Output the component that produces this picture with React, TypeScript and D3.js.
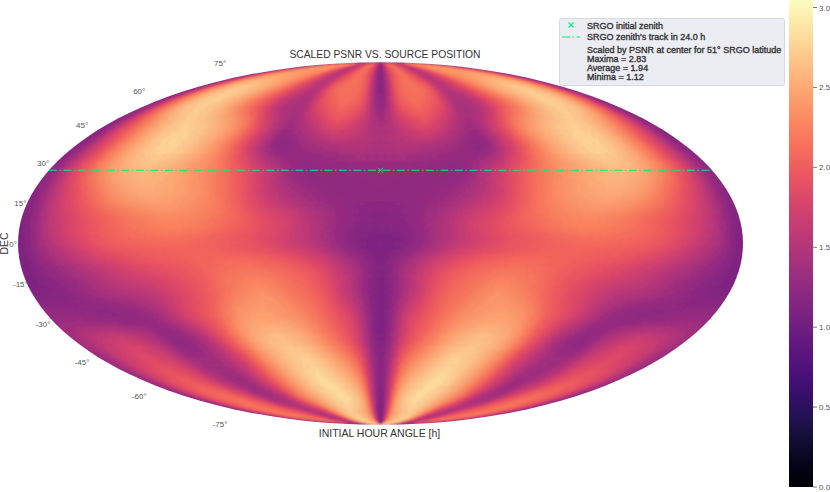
import React, { useMemo } from "react";
import * as d3 from "d3";

// Hour-angle columns (degrees from the centre meridian); the map is mirrored about 0.
const hourAngles = [0, 15, 30, 45, 60, 75, 90, 105, 120, 135, 150, 165, 180];
const decRows = [90, 80, 70, 60, 50, 40, 30, 20, 10, 0, -10, -20, -30, -40, -50, -60, -70, -80, -90];

const decP90 = [1.2, 1.9, 2.15, 1.85, 1.55, 1.85, 2.2, 2.35, 2.4, 2.4, 2.2, 1.95, 1.25];
const decP80 = [1.2, 1.9, 2.15, 1.85, 1.55, 1.85, 2.2, 2.35, 2.4, 2.4, 2.3, 1.95, 1.25];
const decP70 = [1.2, 2.0, 2.15, 2.05, 1.55, 1.75, 2.1, 2.4, 2.6, 2.7, 2.55, 2.1, 1.25];
const decP60 = [1.3, 1.95, 2.1, 1.9, 1.45, 1.55, 1.95, 2.3, 2.6, 2.75, 2.6, 2.05, 1.25];
const decP50 = [1.45, 1.7, 1.85, 1.6, 1.38, 1.75, 2.25, 2.55, 2.72, 2.7, 2.4, 1.9, 1.2];
const decP40 = [1.45, 1.5, 1.45, 1.35, 1.25, 1.7, 2.2, 2.55, 2.75, 2.7, 2.35, 1.8, 1.2];
const decP30 = [1.3, 1.28, 1.25, 1.28, 1.6, 1.95, 2.25, 2.45, 2.6, 2.6, 2.35, 1.85, 1.25];
const decP20 = [1.25, 1.25, 1.3, 1.45, 1.7, 2.05, 2.3, 2.45, 2.5, 2.4, 2.1, 1.7, 1.2];
const decP10 = [1.18, 1.25, 1.45, 1.7, 1.9, 2.1, 2.25, 2.3, 2.25, 2.1, 1.9, 1.6, 1.15];
const decZ00 = [1.13, 1.22, 1.5, 1.72, 1.9, 2.0, 2.08, 2.1, 2.08, 2.0, 1.8, 1.5, 1.13];
const decM10 = [1.15, 1.5, 1.85, 2.05, 2.15, 2.15, 2.05, 1.95, 1.85, 1.7, 1.5, 1.3, 1.12];
const decM20 = [1.13, 1.55, 2.0, 2.2, 2.35, 2.25, 2.0, 1.8, 1.6, 1.5, 1.35, 1.2, 1.15];
const decM30 = [1.13, 1.75, 2.1, 2.35, 2.45, 2.4, 2.05, 1.75, 1.4, 1.25, 1.25, 1.3, 1.3];
const decM40 = [1.15, 1.85, 2.25, 2.55, 2.65, 2.45, 1.95, 1.45, 1.25, 1.55, 1.7, 1.6, 1.4];
const decM50 = [1.2, 2.1, 2.5, 2.75, 2.65, 2.3, 1.75, 1.42, 1.4, 1.75, 1.85, 1.7, 1.35];
const decM60 = [1.2, 2.3, 2.7, 2.82, 2.6, 2.2, 1.7, 1.35, 1.55, 1.9, 2.0, 1.8, 1.35];
const decM70 = [1.15, 2.4, 2.8, 2.75, 2.5, 2.1, 1.55, 1.45, 1.85, 2.1, 2.1, 1.85, 1.3];
const decM80 = [1.15, 2.3, 2.65, 2.7, 2.3, 1.65, 1.5, 1.9, 2.1, 2.15, 2.15, 1.85, 1.3];
const decM90 = [1.15, 2.3, 2.65, 2.7, 2.3, 1.65, 1.5, 1.9, 2.1, 2.15, 2.15, 1.85, 1.3];

const psnrGrid = [
  decP90, decP80, decP70, decP60, decP50, decP40, decP30, decP20, decP10, decZ00,
  decM10, decM20, decM30, decM40, decM50, decM60, decM70, decM80, decM90,
];

const decTicks = [75, 60, 45, 30, 15, 0, -15, -30, -45, -60, -75];
const colorTicks = [0, 0.5, 1, 1.5, 2, 2.5, 3];
const zenithDec = 30;
const legendLines = [
  "Scaled by PSNR at center for 51° SRGO latitude",
  "Maxima = 2.83",
  "Average = 1.94",
  "Minima = 1.12",
];

const W = 830;
const H = 492;
const CX = 380.5;
const CY = 243.5;
const SEMI_A = 362.5;
const V_MAX = 3.047;
const GREEN = "#00f07a";
const FONT = "'Liberation Sans', Arial, sans-serif";
const SUB_LON = 10;
const SUB_LAT = 8;

function mollweideRaw(lambda: number, phi: number): [number, number] {
  let theta = phi;
  const target = Math.PI * Math.sin(phi);
  for (let i = 0; i < 30; i++) {
    const denom = 2 + 2 * Math.cos(2 * theta);
    if (Math.abs(denom) < 1e-9) break;
    const d = (2 * theta + Math.sin(2 * theta) - target) / denom;
    theta -= d;
    if (Math.abs(d) < 1e-9) break;
  }
  if (Math.abs(Math.abs(phi) - Math.PI / 2) < 1e-9) theta = phi;
  return [((2 * Math.SQRT2) / Math.PI) * lambda * Math.cos(theta), Math.SQRT2 * Math.sin(theta)];
}

const projection = d3
  .geoProjection(mollweideRaw as any)
  .scale(SEMI_A / (2 * Math.SQRT2))
  .translate([CX, CY])
  .precision(0.1);
const geoPath = d3.geoPath(projection);

const colorScale = d3.scaleSequential(d3.interpolateMagma).domain([0, V_MAX]);
const barY = d3.scaleLinear().domain([0, 3]).range([487, 7.5]);

function catmull(p0: number, p1: number, p2: number, p3: number, t: number) {
  return 0.5 * (2 * p1 + (p2 - p0) * t + (2 * p0 - 5 * p1 + 4 * p2 - p3) * t * t + (3 * p1 - p0 - 3 * p2 + p3) * t * t * t);
}

// Gouraud-like shading of the grid, as in pcolormesh(shading="gouraud").
function shade(colFloat: number, rowFloat: number) {
  const nc = hourAngles.length;
  const nr = decRows.length;
  const c = Math.min(Math.floor(colFloat), nc - 2);
  const r = Math.min(Math.floor(rowFloat), nr - 2);
  const tc = colFloat - c;
  const tr = rowFloat - r;
  const at = (i: number, j: number) => {
    const jj = Math.abs(j) > nc - 1 ? 2 * (nc - 1) - Math.abs(j) : Math.abs(j);
    return psnrGrid[Math.max(0, Math.min(nr - 1, i))][jj];
  };
  const rows = [r - 1, r, r + 1, r + 2].map((i) =>
    catmull(at(i, c - 1), at(i, c), at(i, c + 1), at(i, c + 2), tc),
  );
  return catmull(rows[0], rows[1], rows[2], rows[3], tr);
}

function buildCells() {
  const bins = new Map<string, string[]>();
  const nc = hourAngles.length - 1;
  const nr = decRows.length - 1;
  const cStep = 1 / SUB_LON;
  const rStep = 1 / SUB_LAT;
  const lonAt = d3.scaleLinear().domain(d3.range(hourAngles.length)).range(hourAngles);
  const latAt = d3.scaleLinear().domain(d3.range(decRows.length)).range(decRows);
  for (let ri = 0; ri < nr * SUB_LAT; ri++) {
    for (let ci = 0; ci < nc * SUB_LON; ci++) {
      const c0 = ci * cStep;
      const c1 = (ci + 1) * cStep;
      const r0 = ri * rStep;
      const r1 = (ri + 1) * rStep;
      const v = shade((c0 + c1) / 2, (r0 + r1) / 2);
      const key = colorScale(Math.round(v * 100) / 100) as string;
      const lat0 = latAt(r0);
      const lat1 = latAt(r1);
      const lon0 = lonAt(c0);
      const lon1 = lonAt(c1);
      for (const s of [1, -1]) {
        const pts = [
          [s * lon0, lat0],
          [s * lon1, lat0],
          [s * lon1, lat1],
          [s * lon0, lat1],
        ].map((p) => projection(p as [number, number]) as [number, number]);
        const d = "M" + pts.map((p) => p[0].toFixed(2) + "," + p[1].toFixed(2)).join("L") + "Z";
        if (!bins.has(key)) bins.set(key, []);
        bins.get(key)!.push(d);
      }
    }
  }
  return Array.from(bins, ([color, parts]) => ({ color, d: parts.join("") }));
}

export default function App() {
  const cells = useMemo(buildCells, []);
  const outline = geoPath({ type: "Sphere" } as any) as string;
  const trackL = projection([-180, zenithDec]) as [number, number];
  const trackR = projection([180, zenithDec]) as [number, number];
  const zenith = projection([0, zenithDec]) as [number, number];
  const gradStops = d3.range(0, 1.0001, 0.05);
  return (
    <svg
      width={W}
      height={H}
      viewBox={`0 0 ${W} ${H}`}
      style={{ position: "absolute", left: 0, top: 0, background: "#fff" }}
      fontFamily={FONT}
    >
      <defs>
        <clipPath id="sphere">
          <path d={outline} />
        </clipPath>
        <linearGradient id="bar" x1="0" y1="1" x2="0" y2="0">
          {gradStops.map((t) => (
            <stop key={t} offset={t} stopColor={colorScale(t * V_MAX) as string} />
          ))}
        </linearGradient>
        <filter id="soft" x="-2%" y="-2%" width="104%" height="104%">
          <feGaussianBlur stdDeviation={1.1} />
        </filter>
      </defs>

      <g clipPath="url(#sphere)">
        <g filter="url(#soft)">
          <path d={outline} fill="#8c2981" stroke="#8c2981" strokeWidth={10} />
          {cells.map((c) => (
            <path key={c.color} d={c.d} fill={c.color} stroke={c.color} strokeWidth={0.5} />
          ))}
        </g>
      </g>

      {/* track and start */}
      <line
        x1={trackL[0]}
        y1={trackL[1]}
        x2={trackR[0]}
        y2={trackR[1]}
        stroke={GREEN}
        strokeWidth={1.1}
        strokeDasharray="8 2.5 1.5 2.5"
      />
      <g stroke={GREEN} strokeWidth={1}>
        <line x1={zenith[0] - 2.5} y1={zenith[1] - 2.5} x2={zenith[0] + 2.5} y2={zenith[1] + 2.5} />
        <line x1={zenith[0] - 2.5} y1={zenith[1] + 2.5} x2={zenith[0] + 2.5} y2={zenith[1] - 2.5} />
      </g>

      {/* declination tick labels */}
      {decTicks.map((dec) => {
        const p = projection([-180, dec]) as [number, number];
        return (
          <text
            key={dec}
            x={p[0] - 4.8 - (Math.abs(p[1] - CY) / 181.5) * 2.5}
            y={CY + (p[1] - CY) * 1.1 + 3}
            textAnchor="middle"
            fontSize={8}
            fill="#555"
          >
            {dec}°
          </text>
        );
      })}

      <text x={385} y={58} textAnchor="middle" fontSize={10.3} fill="#333">
        SCALED PSNR VS. SOURCE POSITION
      </text>
      <text x={379.5} y={437} textAnchor="middle" fontSize={10.5} fill="#333">
        INITIAL HOUR ANGLE [h]
      </text>
      <text
        transform={`translate(8,${CY}) rotate(-90)`}
        textAnchor="middle"
        fontSize={10.5}
        fill="#333"
      >
        DEC
      </text>

      {/* legend */}
      <rect x={559.5} y={18.5} width={225} height={67} rx={2} fill="#eaeaf2" fillOpacity={0.9} stroke="#d8d8de" />
      <g stroke={GREEN} strokeWidth={1.1}>
        <line x1={568.5} y1={22.5} x2={573.5} y2={27.5} />
        <line x1={568.5} y1={27.5} x2={573.5} y2={22.5} />
        <line x1={562} y1={37} x2={580} y2={37} strokeDasharray="8 2.5 1.5 2.5" />
      </g>
      <g fontSize={9} fill="#333" stroke="#333" strokeWidth={0.35}>
        <text x={587} y={28.5}>SRGO initial zenith</text>
        <text x={587} y={40}>SRGO zenith's track in 24.0 h</text>
        {legendLines.map((t, i) => (
          <text key={t} x={587} y={53 + i * 9}>
            {t}
          </text>
        ))}
      </g>

      {/* colour bar */}
      <rect x={789} y={0} width={24} height={487} fill="url(#bar)" />
      {colorTicks.map((v) => (
        <g key={v}>
          <line x1={813} x2={817} y1={barY(v)} y2={barY(v)} stroke="#555" strokeWidth={0.8} />
          <text x={819} y={barY(v) + 3} fontSize={8} fill="#555">
            {v.toFixed(1)}
          </text>
        </g>
      ))}
    </svg>
  );
}
